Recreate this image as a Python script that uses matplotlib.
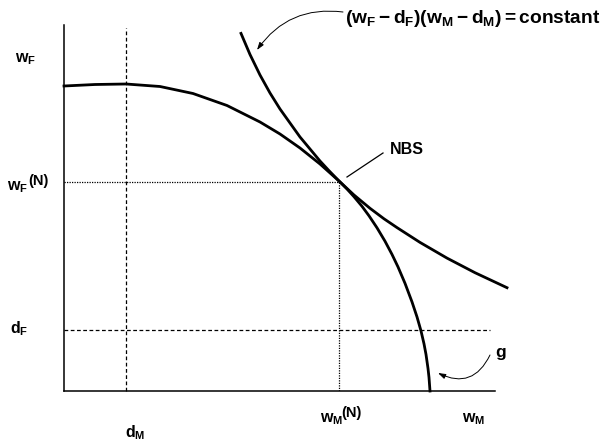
import numpy as np
import matplotlib
matplotlib.use('Agg')
from matplotlib import pyplot as plt

plt.rcParams['font.family'] = ['Liberation Sans', 'DejaVu Sans']
plt.rcParams['font.weight'] = 'bold'
plt.rcParams['mathtext.fontset'] = 'custom'
plt.rcParams['mathtext.rm'] = 'Liberation Sans:bold'
plt.rcParams['mathtext.it'] = 'Liberation Sans:bold'
plt.rcParams['mathtext.bf'] = 'Liberation Sans:bold'

# threat point and Nash bargaining solution
d_M, d_F = 62, 61
wN_M, wN_F = 275, 209

# utility frontier g
frontier_x = [0, 31, 62, 96, 129, 163, 196, 216, 236, 256, 275,
              283, 290, 298, 305, 313, 321, 328, 334, 341, 348,
              353, 357, 360, 362, 364, 365, 366]
frontier_y = [305, 306.5, 307, 304.5, 297.5, 285.5, 269, 257, 243, 227, 210,
              202, 194.3, 184.7, 175.2, 163.2, 149.8, 136.6, 124.1, 107.7, 89.1,
              74.1, 60.1, 47.2, 36.6, 22.6, 13.6, 0]

# iso-product curve through the NBS
hyper_x = [177, 186, 196, 206, 216, 236, 256, 265, 275, 290, 306, 320, 333,
           356, 383, 411, 443]
hyper_y = [357.6, 336.5, 316, 298, 282, 254, 230, 220.3, 210, 196, 182.7, 172.2, 163.4,
           148.6, 132.9, 118.3, 103.3]

fig = plt.figure(figsize=(6, 4.46), dpi=100)
ax = fig.add_axes([64 / 600, 55 / 446, 431 / 600, 366 / 446])
ax.set_xlim(0, 431)
ax.set_ylim(0, 366)
for s in ['top', 'right']:
    ax.spines[s].set_visible(False)
for s in ['left', 'bottom']:
    ax.spines[s].set_linewidth(1.1)
ax.set_xticks([])
ax.set_yticks([])

ax.plot(frontier_x, frontier_y, color='black', lw=2.0, solid_joinstyle='round', clip_on=False)
ax.plot(hyper_x, hyper_y, color='black', lw=2.0, solid_joinstyle='round', clip_on=False)

ax.plot([d_M, d_M], [0, 363], color='black', lw=0.9, ls=(0, (3, 2)), clip_on=False)
ax.plot([0, 426], [d_F, d_F], color='black', lw=0.9, ls=(0, (3, 2)), clip_on=False)
ax.plot([0, wN_M], [wN_F, wN_F], color='black', lw=0.9, ls=(0, (1, 1)))
ax.plot([wN_M, wN_M], [0, wN_F], color='black', lw=0.9, ls=(0, (1, 1)))

# NBS pointer
ax.plot([283, 319], [214, 238], color='black', lw=0.9)

fs = 11.5
ax.text(-49, 329, r'$\mathrm{w_F}$', fontsize=fs, va='baseline', clip_on=False)
ax.text(-57, 201, r'$\mathrm{w_F}$', fontsize=fs, va='baseline', clip_on=False)
ax.text(-36, 206, '(N)', fontsize=10.5, va='baseline', clip_on=False)
ax.text(-54, 58, r'$\mathrm{d_F}$', fontsize=fs, va='baseline', clip_on=False)
ax.text(61, -46, r'$\mathrm{d_M}$', fontsize=fs, va='baseline', clip_on=False)
ax.text(256, -31, r'$\mathrm{w_M}$', fontsize=fs, va='baseline', clip_on=False)
ax.text(277, -26, '(N)', fontsize=10.5, va='baseline', clip_on=False)
ax.text(398, -31, r'$\mathrm{w_M}$', fontsize=fs, va='baseline', clip_on=False)
ax.text(431, 34, 'g', fontsize=fs + 1, va='baseline', clip_on=False)
ax.text(326, 237, 'NBS', fontsize=fs, va='baseline', clip_on=False)
ax.text(281, 368, r'$\mathrm{(w_F - d_F)(w_M - d_M) = constant}$', fontsize=13.8,
        va='baseline', clip_on=False)

arrow = dict(arrowstyle='-|>,head_length=0.45,head_width=0.15', color='black', lw=0.7,
             shrinkA=0, shrinkB=0)
ax.annotate('', xy=(193, 341), xytext=(279, 379), annotation_clip=False,
            arrowprops=dict(arrow, connectionstyle='arc3,rad=0.3'))
ax.annotate('', xy=(374, 18), xytext=(426, 36), annotation_clip=False,
            arrowprops=dict(arrow, connectionstyle='arc3,rad=-0.5'))

fig.savefig('out.png', dpi=100)
